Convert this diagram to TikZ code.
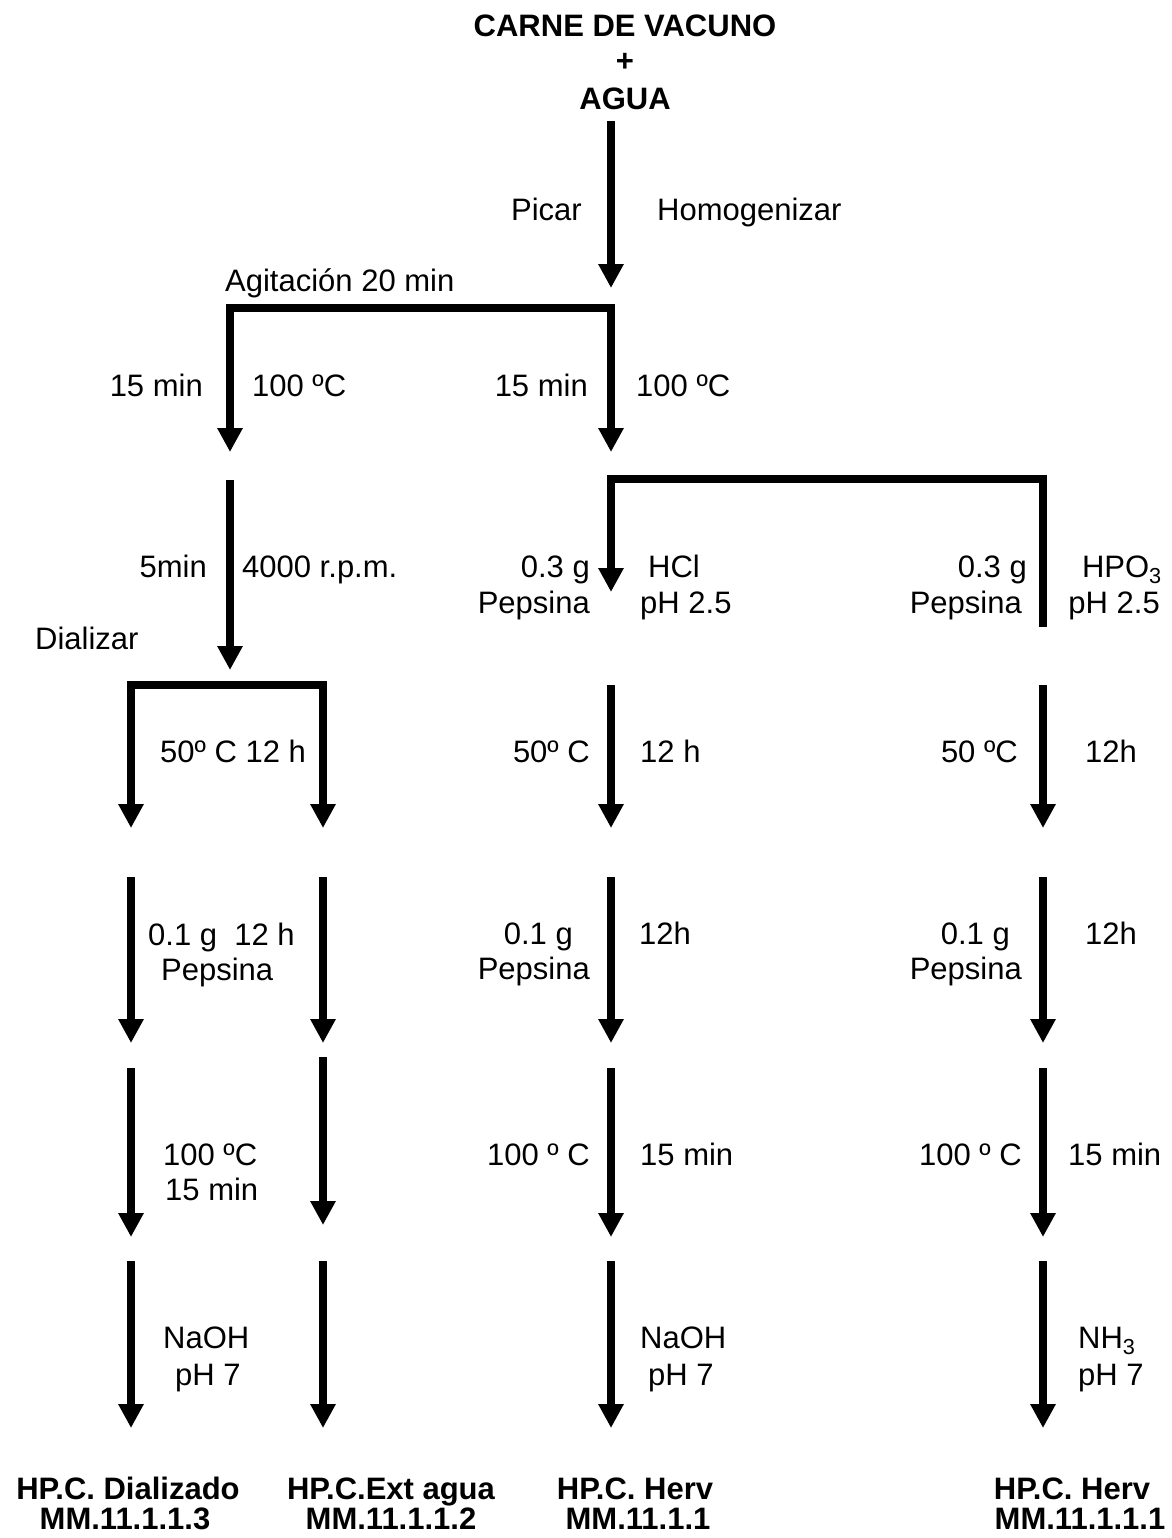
\documentclass[tikz,border=0pt]{standalone}
\usepackage{fontspec}
\setmainfont{Liberation Sans}
\usetikzlibrary{arrows.meta}
\newcommand\lblfont{\fontsize{31}{37}\selectfont}
\newcommand\ttlfont{\fontsize{31}{37}\selectfont\bfseries}
\begin{document}
\begin{tikzpicture}[x=1pt,y=-1pt,
  flow/.style={line width=8pt,-{Triangle[width=24pt,length=24pt]}},
  bar/.style={line width=7.5pt,line cap=rect},
  plainline/.style={line width=8pt},
  lbl/.style={inner sep=0pt,font=\lblfont},
  ttl/.style={inner sep=0pt,font=\ttlfont,anchor=base}]
\useasboundingbox (0,0) rectangle (1171,1538);

% ---------- titles ----------
\node[ttl] (t1) at (625,37) {CARNE DE VACUNO};
\node[ttl] (t2) at (625,72) {+};
\node[ttl] (t3) at (625,110) {AGUA};

% ---------- coordinates ----------
\coordinate (a0s) at (611,121);  \coordinate (a0e) at (611,288);
\coordinate (barAl) at (230,308); \coordinate (barAr) at (611,308);
\coordinate (a1ls) at (230,305); \coordinate (a1le) at (230,452);
\coordinate (a1cs) at (611,305); \coordinate (a1ce) at (611,452);
\coordinate (a2ls) at (230,480); \coordinate (a2le) at (230,670);
\coordinate (barBl) at (611,479); \coordinate (barBr) at (1043,479);
\coordinate (a2cs) at (611,476); \coordinate (a2ce) at (611,592);
\coordinate (a2rs) at (1043,476); \coordinate (a2re) at (1043,627);
\coordinate (barCl) at (131,685); \coordinate (barCr) at (323,685);
\coordinate (a3as) at (131,682); \coordinate (a3ae) at (131,828);
\coordinate (a3bs) at (323,682); \coordinate (a3be) at (323,828);
\coordinate (a3cs) at (611,685); \coordinate (a3ce) at (611,828);
\coordinate (a3rs) at (1043,685); \coordinate (a3re) at (1043,828);
\coordinate (a4as) at (131,877); \coordinate (a4ae) at (131,1043);
\coordinate (a4bs) at (323,877); \coordinate (a4be) at (323,1043);
\coordinate (a4cs) at (611,877); \coordinate (a4ce) at (611,1043);
\coordinate (a4rs) at (1043,877); \coordinate (a4re) at (1043,1043);
\coordinate (a5as) at (131,1068); \coordinate (a5ae) at (131,1237);
\coordinate (a5bs) at (323,1057); \coordinate (a5be) at (323,1225);
\coordinate (a5cs) at (611,1068); \coordinate (a5ce) at (611,1237);
\coordinate (a5rs) at (1043,1068); \coordinate (a5re) at (1043,1237);
\coordinate (a6as) at (131,1261); \coordinate (a6ae) at (131,1428);
\coordinate (a6bs) at (323,1261); \coordinate (a6be) at (323,1428);
\coordinate (a6cs) at (611,1261); \coordinate (a6ce) at (611,1428);
\coordinate (a6rs) at (1043,1261); \coordinate (a6re) at (1043,1428);

% ---------- connectors ----------
\draw[flow] (a0s) -- (a0e);
\draw[bar] (barAl) -- (barAr);
\draw[flow] (a1ls) -- (a1le);
\draw[flow] (a1cs) -- (a1ce);
\draw[flow] (a2ls) -- (a2le);
\draw[bar] (barBl) -- (barBr);
\draw[flow] (a2cs) -- (a2ce);
\draw[plainline] (a2rs) -- (a2re);
\draw[bar] (barCl) -- (barCr);
\draw[flow] (a3as) -- (a3ae);
\draw[flow] (a3bs) -- (a3be);
\draw[flow] (a3cs) -- (a3ce);
\draw[flow] (a3rs) -- (a3re);
\draw[flow] (a4as) -- (a4ae);
\draw[flow] (a4bs) -- (a4be);
\draw[flow] (a4cs) -- (a4ce);
\draw[flow] (a4rs) -- (a4re);
\draw[flow] (a5as) -- (a5ae);
\draw[flow] (a5bs) -- (a5be);
\draw[flow] (a5cs) -- (a5ce);
\draw[flow] (a5rs) -- (a5re);
\draw[flow] (a6as) -- (a6ae);
\draw[flow] (a6bs) -- (a6be);
\draw[flow] (a6cs) -- (a6ce);
\draw[flow] (a6rs) -- (a6re);

% ---------- labels ----------
\node[lbl,anchor=base east] (n1) at (582,221) {Picar};
\node[lbl,anchor=base west] (n2) at (657,221) {Homogenizar};
\node[lbl,anchor=base west] (n3) at (225,291) {Agitación 20 min};

\node[lbl,anchor=base east] (n4) at (203,396) {15 min};
\node[lbl,anchor=base west] (n5) at (252,396) {100 ºC};
\node[lbl,anchor=base east] (n6) at (588,396) {15 min};
\node[lbl,anchor=base west] (n7) at (636,396) {100 ºC};

\node[lbl,anchor=base east] (n8) at (207,577) {5min};
\node[lbl,anchor=base west] (n9) at (242,577) {4000 r.p.m.};
\node[lbl,anchor=base west] (n10) at (35,649) {Dializar};
\node[lbl,anchor=base east] (n11) at (590,577) {0.3 g};
\node[lbl,anchor=base east] (n12) at (590,613) {Pepsina};
\node[lbl,anchor=base west] (n13) at (648,577) {HCl};
\node[lbl,anchor=base west] (n14) at (640,613) {pH 2.5};
\node[lbl,anchor=base east] (n15) at (1027,577) {0.3 g};
\node[lbl,anchor=base east] (n16) at (1022,613) {Pepsina};
\node[lbl,anchor=base east] (n17) at (1162,577) {HPO\textsubscript{3}};
\node[lbl,anchor=base east] (n18) at (1160,613) {pH 2.5};

\node[lbl,anchor=base west] (n19) at (160,762) {50º C 12 h};
\node[lbl,anchor=base east] (n20) at (590,762) {50º C};
\node[lbl,anchor=base west] (n21) at (640,762) {12 h};
\node[lbl,anchor=base east] (n22) at (1018,762) {50 ºC};
\node[lbl,anchor=base west] (n23) at (1085,762) {12h};

\node[lbl,anchor=base west] (n24) at (148,945) {0.1 g\ \ 12 h};
\node[lbl,anchor=base west] (n25) at (161,980) {Pepsina};
\node[lbl,anchor=base east] (n26) at (573,944) {0.1 g};
\node[lbl,anchor=base east] (n27) at (590,979) {Pepsina};
\node[lbl,anchor=base west] (n28) at (639,944) {12h};
\node[lbl,anchor=base east] (n29) at (1010,944) {0.1 g};
\node[lbl,anchor=base east] (n30) at (1022,979) {Pepsina};
\node[lbl,anchor=base west] (n31) at (1085,944) {12h};

\node[lbl,anchor=base west] (n32) at (163,1165) {100 ºC};
\node[lbl,anchor=base west] (n33) at (165,1200) {15 min};
\node[lbl,anchor=base east] (n34) at (590,1165) {100 º C};
\node[lbl,anchor=base west] (n35) at (640,1165) {15 min};
\node[lbl,anchor=base east] (n36) at (1022,1165) {100 º C};
\node[lbl,anchor=base west] (n37) at (1068,1165) {15 min};

\node[lbl,anchor=base west] (n38) at (163,1348) {NaOH};
\node[lbl,anchor=base west] (n39) at (175,1385) {pH 7};
\node[lbl,anchor=base west] (n40) at (640,1348) {NaOH};
\node[lbl,anchor=base west] (n41) at (648,1385) {pH 7};
\node[lbl,anchor=base west] (n42) at (1078,1348) {NH\textsubscript{3}};
\node[lbl,anchor=base west] (n43) at (1078,1385) {pH 7};

% ---------- results ----------
\node[ttl] (r1) at (128,1499) {HP.C. Dializado};
\node[ttl] (r2) at (125,1529) {MM.11.1.1.3};
\node[ttl] (r3) at (391,1499) {HP.C.Ext agua};
\node[ttl] (r4) at (391,1529) {MM.11.1.1.2};
\node[ttl] (r5) at (635,1499) {HP.C. Herv};
\node[ttl] (r6) at (638,1529) {MM.11.1.1};
\node[ttl] (r7) at (1072,1499) {HP.C. Herv};
\node[ttl] (r8) at (1080,1529) {MM.11.1.1.1};
\end{tikzpicture}
\end{document}
